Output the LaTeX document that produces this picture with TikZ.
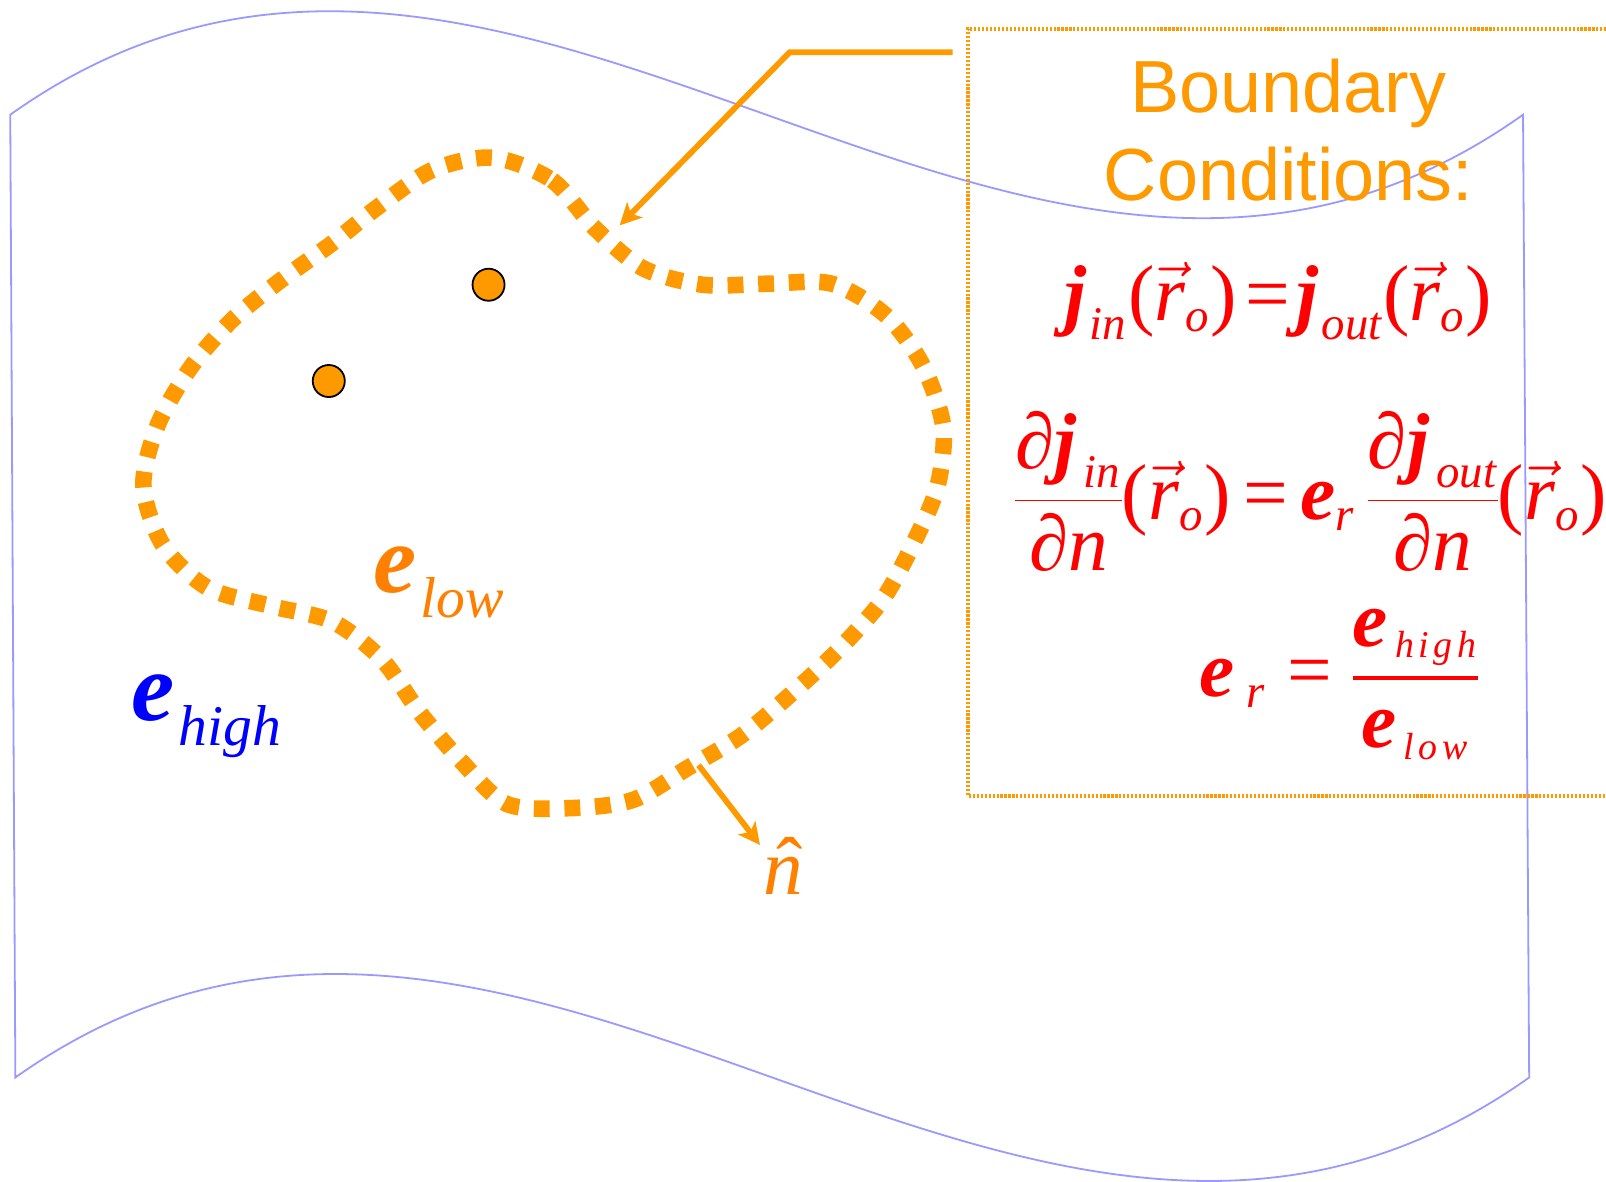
\documentclass[tikz,border=0pt]{standalone}
\usepackage{amsmath}
\usepackage{fontspec}
\setmainfont{Liberation Serif}
\newfontfamily\arialfont{Liberation Sans}
\usetikzlibrary{arrows.meta,positioning,calc}
\definecolor{flagblue}{HTML}{9999FF}
\definecolor{bcorange}{HTML}{FF9900}
\definecolor{deeporange}{HTML}{FF8000}
\DeclareMathSizes{22}{22}{13}{10}
\newcommand{\bj}{\text{\bfseries\itshape j}}
\newcommand{\bfe}{\text{\bfseries\itshape e}}
\newcommand{\tit}[1]{\text{\itshape #1}}
\newcommand{\tup}[1]{\text{\upshape #1}}
\newcommand{\tsp}[1]{\text{\itshape\fontsize{10.5}{12}\selectfont\addfontfeature{LetterSpace=12}#1}}
\newcommand{\rvec}{\vec{\tit{r}}_{\tit{o}}}
\setlength{\nulldelimiterspace}{0pt}

\begin{document}
\begin{tikzpicture}[x=0.01cm,y=-0.01cm,
  flagline/.style={flagblue,line width=0.5pt},
  interface/.style={bcorange,line width=4.6pt,dash pattern=on 4.4pt off 4.1pt},
  bcbox/.style={bcorange,line width=1.2pt,dash pattern=on 0.6pt off 0.5pt},
  pointer/.style={bcorange,line width=1.6pt,-{Stealth[length=6pt,width=6pt,inset=1.5pt]}},
  charge/.style={circle,draw=black,line width=0.5pt,fill=bcorange,minimum size=8.9pt,inner sep=0pt},
  eqn/.style={red,inner sep=0pt,font=\fontsize{22}{26}\selectfont}]

\useasboundingbox (0,0) rectangle (1568,1154);

%% flag-shaped sheet (outer medium)
\draw[flagline] (10,112) .. controls (502,-238) and (994,462) .. (1487,112)
  -- (1493,1052) .. controls (1000,1402) and (508,702) .. (15,1052) -- cycle;

%% boundary conditions box (runs off the right edge)
\draw[bcbox] (1580,28) -- (945,28) -- (945,777) -- (1580,777);
\node[bcorange,font=\arialfont\fontsize{20.5}{24.5}\selectfont,align=center,
      anchor=north,inner sep=0pt] (bctitle) at (1258,57) {Boundary\\Conditions:};

%% the three conditions
\node[eqn,anchor=base] (bc1) at (1248,313)
  {$\bj_{\kern1pt\tit{in}}\tup{(}\rvec\tup{)}\kern2.5pt\tup{=}\kern1.5pt\bj_{\kern1pt\tit{out}}\tup{(}\rvec\tup{)}$};
\node[eqn] (bc2) at (1280,480)
  {$\genfrac{}{}{0.4pt}{0}{\tup{∂}\bj_{\,\tit{in}}}{\tup{∂}\tit{n}}\tup{(}\rvec\tup{)}\,\tup{=}\,\bfe_{\tit{r}}\,
    \genfrac{}{}{0.4pt}{0}{\tup{∂}\bj_{\,\tit{out}}}{\tup{∂}\tit{n}}\tup{(}\rvec\tup{)}$};
\node[eqn] (bc3) at (1307,668)
  {$\bfe_{\;\tit{r}}\;\tup{=}\;\genfrac{}{}{0.9pt}{0}{\bfe_{\,\tsp{high}}}{\bfe_{\,\tsp{low}}}$};

%% interface between the two media
\draw[interface] plot[smooth cycle] coordinates {
  (481,154) (539,176) (581,223) (628,262) (686,278) (750,277) (812,277)
  (865,308) (901,357) (921,417) (915,476) (891,532) (862,585) (820,633)
  (773,677) (724,718) (671,750) (618,781) (557,789) (495,785) (451,744)
  (410,696) (373,644) (325,607) (266,592) (203,574) (159,532) (140,474)
  (154,415) (186,359) (227,312) (275,273) (325,237) (369,202) (422,166)};

%% point charges inside
\node[charge] (q1) at (477,278) {};
\node[charge] (q2) at (321,372) {};

%% permittivity labels
\node[deeporange,anchor=base west,inner sep=0pt] (elow) at (364,578)
  {\fontsize{27}{30}\selectfont\bfseries\itshape e\kern1pt\raisebox{-7pt}{\fontsize{16}{18}\selectfont\mdseries low}};
\node[blue,anchor=base west,inner sep=0pt] (ehigh) at (128,703)
  {\fontsize{27}{30}\selectfont\bfseries\itshape e\kern1pt\raisebox{-7pt}{\fontsize{16}{18}\selectfont\mdseries high}};

%% pointer from the box to the interface
\coordinate (bcstart) at (930,51);
\coordinate (bcknee) at (771,51);
\coordinate (bctip) at (605,220);
\draw[pointer] (bcstart) -- (bcknee) -- (bctip);

%% outward normal
\coordinate (nfoot) at (682,747);
\coordinate (ntip) at (742,825);
\node[deeporange,inner sep=0pt,anchor=base,font=\fontsize{22}{26}\selectfont\itshape] (nhat) at (765,873)
  {\makebox[0pt][l]{\kern3.6pt\raisebox{0.5pt}{\upshape ˆ}}n};
\draw[pointer] (nfoot) -- (ntip);
\end{tikzpicture}
\end{document}
